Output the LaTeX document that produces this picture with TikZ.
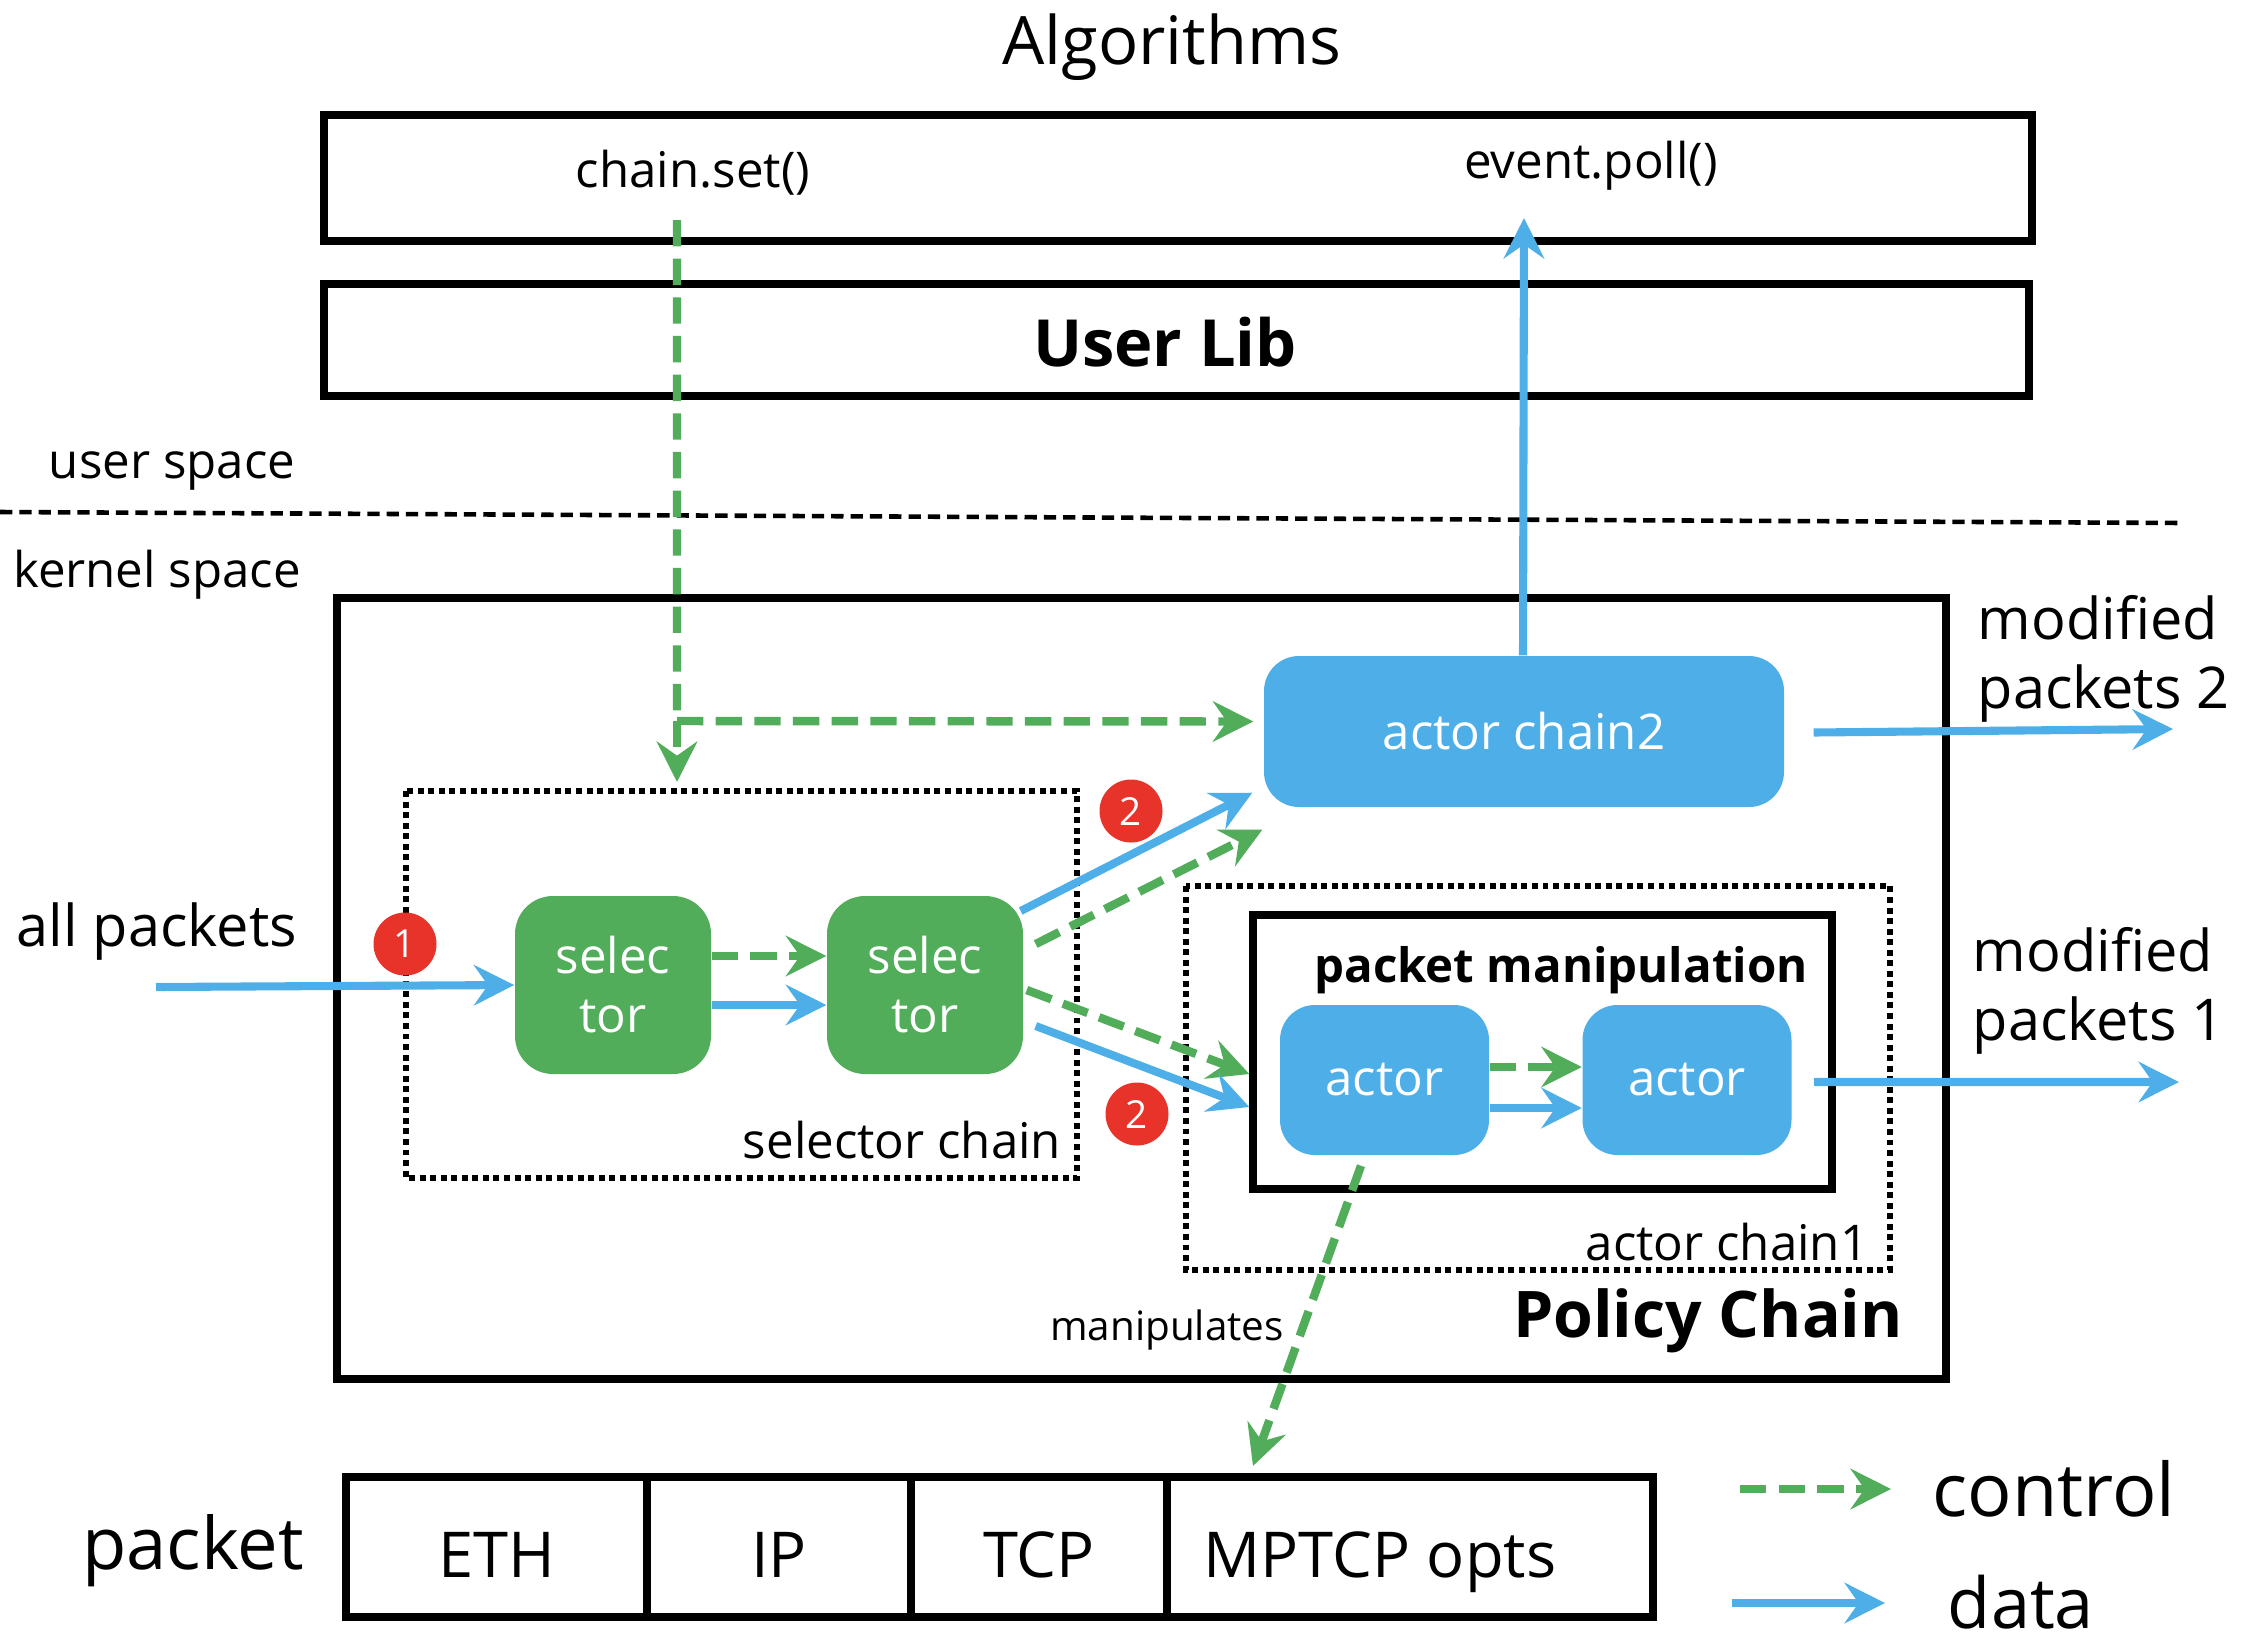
\documentclass[tikz,border=0pt]{standalone}
\usepackage{fontspec}
\setmainfont{Open Sans}
\usetikzlibrary{arrows.meta,positioning}
\definecolor{ctlgreen}{HTML}{52AD5B}
\definecolor{datblue}{HTML}{4EAEE8}
\definecolor{badgered}{HTML}{E8332A}
\newcommand{\fsz}[1]{\fontsize{#1}{1.2\dimexpr#1pt\relax}\selectfont}
\begin{document}
\begin{tikzpicture}[
	tip/.tip={Stealth[length=11.5pt,width=11.5pt,inset=4pt]},
	ctl/.style={ctlgreen, line width=2.4pt, dash pattern=on 7.5pt off 3.5pt, -tip},
	dat/.style={datblue, line width=2.3pt, -tip},
	frame/.style={line width=2.3pt},
	dotbox/.style={line width=1.8pt, dash pattern=on 1.7pt off 1.3pt},
	selbox/.style={fill=ctlgreen, text=white, rounded corners=0.38cm, align=center,
		minimum width=1.96cm, minimum height=1.78cm, font=\fsz{14}, inner sep=0pt},
	actbox/.style={fill=datblue, text=white, rounded corners=0.35cm,
		minimum width=2.09cm, minimum height=1.50cm, font=\fsz{14}, inner sep=0pt},
	badge/.style={circle, fill=badgered, text=white, minimum size=0.63cm, inner sep=0pt, font=\fsz{11}},
	lbl/.style={font=\fsz{14}},
	pktbox/.style={draw, frame, minimum height=1.40cm, font=\fsz{18}, inner sep=0pt,
		text height=0.60cm, text depth=0pt},
]
	\useasboundingbox (0,0) rectangle (22.6,-16.42);

	% user space
	\node[font=\fsz{19}] (alg) at (11.72,-0.47) {Algorithms};
	\draw[frame] (3.24,-1.15) rectangle (20.32,-2.41);
	\node[lbl] (chainset) at (6.93,-1.73) {chain.set()};
	\node[lbl] (evpoll) at (15.91,-1.66) {event.poll()};
	\draw[frame] (3.24,-2.84) rectangle (20.29,-3.96);
	\node[font=\fsz{18.5}\bfseries] (ulib) at (11.65,-3.42) {User Lib};

	\node[lbl] (uspace) at (1.72,-4.71) {user space};
	\draw[line width=1.3pt, dash pattern=on 3.5pt off 2pt] (0,-5.12) -- (21.83,-5.23);
	\node[lbl] (kspace) at (1.57,-5.75) {kernel space};

	% policy chain
	\draw[frame] (3.37,-5.98) rectangle (19.46,-13.79);
	\node[font=\fsz{18.3}\bfseries] (pchain) at (17.08,-13.21) {Policy Chain};

	\draw[dotbox] (4.06,-7.91) rectangle (10.77,-11.78);
	\node[lbl] (selchain) at (9.02,-11.40) {selector chain};
	\node[selbox] (sel1) at (6.13,-9.85) {selec\\tor};
	\node[selbox] (sel2) at (9.25,-9.85) {selec\\tor};

	\node[actbox, minimum width=5.20cm, minimum height=1.51cm] (ac2) at (15.24,-7.315) {actor chain2};

	\draw[dotbox] (11.86,-8.86) rectangle (18.90,-12.70);
	\node[lbl] (actchain) at (17.27,-12.42) {actor chain1};
	\draw[frame] (12.53,-9.15) rectangle (18.32,-11.89);
	\node[font=\fsz{13.5}\bfseries] (pmanip) at (15.61,-9.70) {packet manipulation};
	\node[actbox] (actA) at (13.845,-10.80) {actor};
	\node[actbox] (actB) at (16.87,-10.80) {actor};

	\node[badge] (b1) at (4.05,-9.44) {1};
	\node[badge] (b2a) at (11.31,-8.11) {2};
	\node[badge] (b2b) at (11.37,-11.14) {2};

	% outside labels
	\node[font=\fsz{16.4}] (allpk) at (1.57,-9.32) {all packets};
	\coordinate (inpt) at (1.56,-9.87);
	\node[font=\fsz{16.4}, align=left, anchor=west, inner sep=0pt] (mod2) at (19.77,-6.585)
		{\fontsize{16.4}{19.6}\selectfont modified\\packets 2};
	\node[font=\fsz{16.4}, align=left, anchor=west, inner sep=0pt] (mod1) at (19.72,-9.905)
		{\fontsize{16.4}{20}\selectfont modified\\packets 1};
	\coordinate (out2) at (21.73,-7.29);
	\coordinate (out1) at (21.79,-10.82);
	\node[font=\fsz{11.5}] (manip) at (11.67,-13.30) {manipulates};

	% packet
	\node[font=\fsz{20.6}] (pkt) at (1.93,-15.51) {packet};
	\node[pktbox, minimum width=3.01cm] (eth) at (4.965,-15.47) {ETH};
	\node[pktbox, minimum width=2.64cm] (ip) at (7.79,-15.47) {IP};
	\node[pktbox, minimum width=2.56cm] (tcp) at (10.39,-15.47) {TCP};
	\node[pktbox, minimum width=4.86cm] (mptcp) at (14.10,-15.47) {\hspace*{-0.6cm}MPTCP opts};

	% control flow
	\coordinate (split) at (6.77,-7.21);
	\draw[ctl, -] ([xshift=-0.16cm,yshift=-0.12cm]chainset.south) -- (split);
	\draw[ctl] (split) -- (6.77,-7.82);
	\draw[ctl] (split) -- ([shift={(-0.10,0.10)}]ac2.west);
	\draw[ctl] ([yshift=0.29cm]sel1.east) -- ([yshift=0.29cm]sel2.west);
	\draw[ctl] ([shift={(0.12,0.41)}]sel2.east) -- ([shift={(-0.01,-0.22)}]ac2.south west);
	\draw[ctl] ([shift={(0.03,-0.05)}]sel2.east) -- ([shift={(-0.30,0.06)}]actA.west);
	\draw[ctl] ([yshift=0.13cm]actA.east) -- ([yshift=0.13cm]actB.west);
	\draw[ctl] ([shift={(-0.235,-0.10)}]actA.south) -- ([shift={(0.90,0.07)}]mptcp.north west);

	% data flow
	\draw[dat] (inpt) -- (sel1.west);
	\draw[dat] ([yshift=-0.20cm]sel1.east) -- ([yshift=-0.20cm]sel2.west);
	\draw[dat] ([shift={(-0.03,0.74)}]sel2.east) -- ([shift={(-0.11,0.15)}]ac2.south west);
	\draw[dat] ([shift={(0.12,-0.41)}]sel2.east) -- ([shift={(-0.30,-0.27)}]actA.west);
	\draw[dat] ([yshift=-0.28cm]actA.east) -- ([yshift=-0.28cm]actB.west);
	\draw[dat] ([xshift=-0.01cm]ac2.north) -- ([yshift=-0.15cm]evpoll.south -| ac2.north);
	\draw[dat] ([xshift=0.29cm,yshift=-0.01cm]ac2.east) -- (out2);
	\draw[dat] ([xshift=0.22cm,yshift=-0.02cm]actB.east) -- (out1);

	% legend
	\node[font=\fsz{21}] (lgctl) at (20.54,-14.89) {control};
	\node[font=\fsz{20}] (lgdat) at (20.21,-16.02) {data};
	\draw[ctl] (17.40,-14.89) -- (18.91,-14.89);
	\draw[dat] (17.32,-16.03) -- (18.85,-16.03);
\end{tikzpicture}
\end{document}
